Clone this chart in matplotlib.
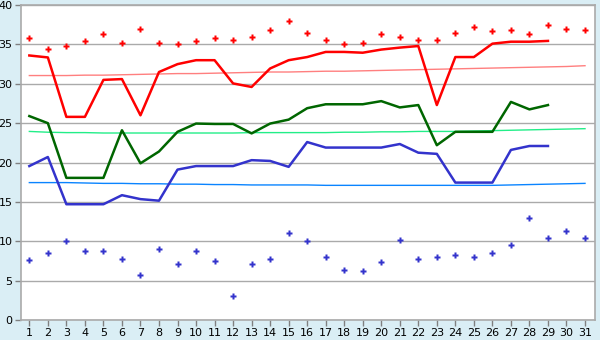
import numpy as np
import matplotlib
matplotlib.use("Agg")
import matplotlib.pyplot as plt

days = list(range(1, 32))

# daily maximum (red markers) and minimum (blue markers)
tmax = [35.8, 34.4, 34.8, 35.4, 36.3, 35.2, 37.0, 35.2, 35.1, 35.4,
        35.8, 35.6, 35.9, 36.8, 38.0, 36.4, 35.6, 35.1, 35.2, 36.3,
        36.0, 35.6, 35.6, 36.4, 37.2, 36.7, 36.8, 36.3, 37.5, 37.0, 36.8]
tmin = [7.6, 8.5, 10.0, 8.8, 8.8, 7.8, 5.7, 9.0, 7.1, 8.8,
        7.5, 3.0, 7.1, 7.8, 11.0, 10.0, 8.0, 6.3, 6.2, 7.3,
        10.1, 7.8, 8.0, 8.2, 8.0, 8.5, 9.5, 12.9, 10.4, 11.3, 10.4]

# averages (thick lines), only up to day 29
avg_max = [33.6, 33.35, 25.8, 25.8, 30.5, 30.6, 26.0, 31.5, 32.5, 33.0,
           33.0, 30.05, 29.6, 31.95, 33.0, 33.4, 34.05, 34.05, 33.95, 34.35,
           34.6, 34.8, 27.3, 33.4, 33.4, 35.1, 35.35, 35.35, 35.45]
avg_mean = [25.9, 25.0, 18.05, 18.05, 18.05, 24.1, 19.9, 21.4, 23.9, 24.95,
            24.9, 24.9, 23.7, 24.95, 25.45, 26.9, 27.4, 27.4, 27.4, 27.8,
            27.0, 27.3, 22.2, 23.9, 23.9, 23.9, 27.7, 26.75, 27.3]
avg_min = [19.55, 20.7, 14.7, 14.7, 14.7, 15.85, 15.35, 15.15, 19.1, 19.55,
           19.55, 19.55, 20.3, 20.2, 19.45, 22.6, 21.9, 21.9, 21.9, 21.9,
           22.35, 21.25, 21.1, 17.45, 17.45, 17.45, 21.6, 22.1, 22.1]

# normals (thin lines)
norm_max = [31.05, 31.05, 31.05, 31.1, 31.1, 31.15, 31.2, 31.25, 31.3, 31.3,
            31.35, 31.4, 31.45, 31.5, 31.5, 31.55, 31.6, 31.6, 31.65, 31.7,
            31.75, 31.8, 31.85, 31.9, 31.95, 32.0, 32.05, 32.1, 32.15, 32.2, 32.3]
norm_mean = [23.95, 23.85, 23.8, 23.8, 23.75, 23.75, 23.75, 23.75, 23.75, 23.75,
             23.75, 23.75, 23.8, 23.8, 23.8, 23.8, 23.8, 23.85, 23.85, 23.9,
             23.9, 23.95, 23.95, 23.95, 24.0, 24.05, 24.1, 24.15, 24.2, 24.25, 24.3]
norm_min = [17.45, 17.45, 17.45, 17.4, 17.35, 17.35, 17.3, 17.3, 17.25, 17.25,
            17.2, 17.2, 17.15, 17.15, 17.15, 17.15, 17.1, 17.1, 17.1, 17.1,
            17.1, 17.1, 17.1, 17.1, 17.1, 17.1, 17.15, 17.2, 17.25, 17.3, 17.35]

bg = "#daeef5"
fig = plt.figure(figsize=(6, 3.4), dpi=100, facecolor=bg)
ax = fig.add_axes([0.035, 0.059, 0.957, 0.926])
ax.set_facecolor("white")

d29 = days[:len(avg_max)]
ax.plot(days, norm_max, color="#ff7f7f", lw=1.0, zorder=3)
ax.plot(days, norm_mean, color="#22ee88", lw=1.0, zorder=3)
ax.plot(days, norm_min, color="#0a84ff", lw=1.0, zorder=3)
ax.plot(d29, avg_max, color="#ff0000", lw=1.8, zorder=4)
ax.plot(d29, avg_mean, color="#006600", lw=1.8, zorder=4)
ax.plot(d29, avg_min, color="#3333cc", lw=1.8, zorder=4)
ax.plot(days, tmax, ls="none", marker="P", ms=5, color="#ff0000", mec="none", zorder=5)
ax.plot(days, tmin, ls="none", marker="P", ms=5, color="#3333cc", mec="none", zorder=5)

ax.set_xlim(0.55, 31.55)
ax.set_ylim(0, 40)
ax.set_xticks(days)
ax.set_yticks(range(0, 41, 5))
ax.yaxis.grid(True, color="#aaaaaa", lw=1.0)
ax.set_axisbelow(True)
for s in ax.spines.values():
    s.set_color("#aaaaaa")
    s.set_linewidth(1.2)
ax.tick_params(axis="both", colors="#808080", labelcolor="black", labelsize=8, length=4, width=1, pad=2)

fig.savefig("out.png", dpi=100, facecolor=bg)
